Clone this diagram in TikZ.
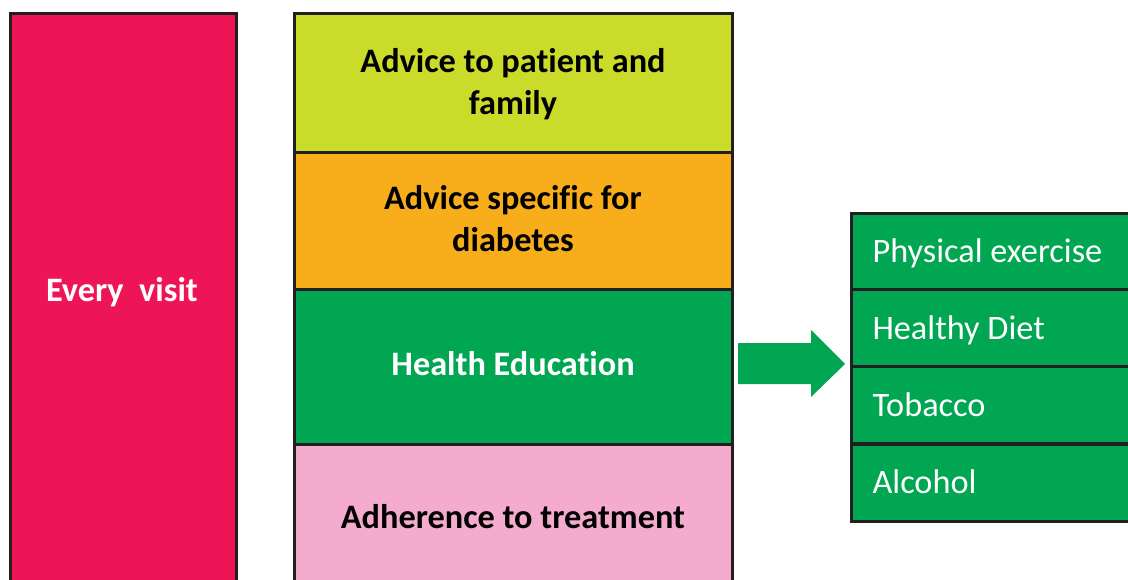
\documentclass[tikz,border=0pt]{standalone}
\usepackage{fontspec}
\setmainfont{Carlito}[RawFeature=-liga]
\definecolor{cred}{HTML}{ED1556}
\definecolor{cyg}{HTML}{CBDB2A}
\definecolor{corange}{HTML}{F8AD1B}
\definecolor{cgreen}{HTML}{00A651}
\definecolor{cpink}{HTML}{F4ABCD}
\definecolor{cline}{HTML}{231F20}
\begin{document}
\begin{tikzpicture}[x=1pt,y=-1pt,
  box/.style={draw=cline,line width=3pt,rectangle,inner sep=0pt},
  lab/.style={align=center,font=\bfseries\fontsize{34.3}{42}\selectfont},
  item/.style={draw=cline,line width=3pt,rectangle,inner sep=0pt,fill=cgreen,
     minimum width=290pt,minimum height=77pt},
  itemtext/.style={text=white,anchor=west,font=\fontsize{34.3}{40}\selectfont}]
\useasboundingbox (0,0) rectangle (1128,580);
\node[box,fill=cred,minimum width=226pt,minimum height=578pt,anchor=north west] (ev) at (8.5,12) {};
\node[lab,text=white] (evt) at (122,292) {Every\ \ visit};
\node[box,fill=cyg,minimum width=438pt,minimum height=139pt,anchor=north west] (a1) at (292.5,12) {};
\node[box,fill=corange,minimum width=438pt,minimum height=137pt,anchor=north west] (a2) at (292.5,151) {};
\node[box,fill=cgreen,minimum width=438pt,minimum height=155pt,anchor=north west] (a3) at (292.5,288) {};
\node[box,fill=cpink,minimum width=438pt,minimum height=150pt,anchor=north west] (a4) at (292.5,443) {};
\node[lab] (t1) at (513,84) {Advice to patient and\\family};
\node[lab] (t2) at (513,219) {Advice specific for\\diabetes};
\node[lab,text=white] (t3) at (513,364) {Health Education};
\node[lab] (t4) at (513,517) {Adherence to treatment};
\node[item,anchor=north west] (r1) at (849.5,212) {};
\node[item,anchor=north west] (r2) at (849.5,288.5) {};
\node[item,anchor=north west] (r3) at (849.5,365) {};
\node[item,anchor=north west] (r4) at (849.5,443) {};
\node[itemtext] (p1) at (869,253) {Physical exercise};
\node[itemtext] (p2) at (869,330) {Healthy Diet};
\node[itemtext] (p3) at (869,405) {Tobacco};
\node[itemtext] (p4) at (869,482) {Alcohol};
\fill[cgreen] (738,343) -- (811,343) -- (811,330) -- (845,364) -- (811,397) -- (811,384) -- (738,384) -- cycle;
\end{tikzpicture}
\end{document}
